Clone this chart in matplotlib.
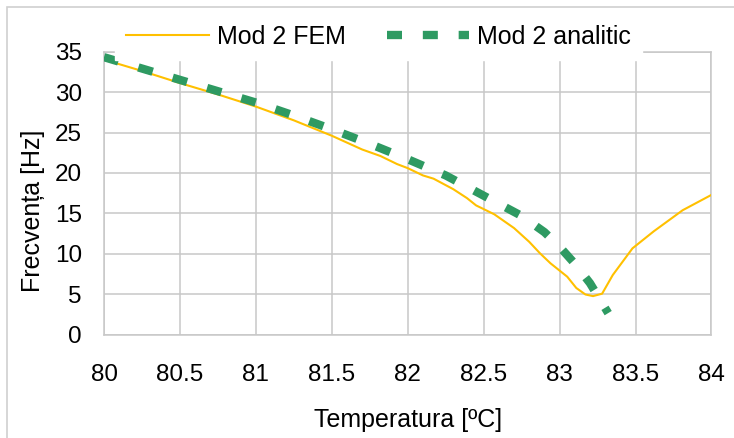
import numpy as np
import matplotlib.pyplot as plt
from matplotlib.patches import Rectangle

plt.rcParams['font.family'] = ['Liberation Sans', 'DejaVu Sans']

# Mod 2 FEM
temp_fem = [80, 80.25, 80.5, 80.75, 81, 81.25, 81.5, 81.7, 81.82, 81.93, 82.0, 82.1,
            82.17, 82.3, 82.39, 82.45, 82.57, 82.7, 82.8, 82.87, 82.94, 83.05, 83.11,
            83.17, 83.22, 83.28, 83.35, 83.48, 83.62, 83.81, 83.9, 84.0]
freq_fem = [34.0, 32.6, 31.1, 29.7, 28.2, 26.5, 24.6, 22.9, 22.1, 21.1, 20.6, 19.7,
            19.3, 18.0, 16.9, 16.0, 14.9, 13.2, 11.5, 10.1, 8.85, 7.2, 5.8,
            5.0, 4.8, 5.1, 7.4, 10.7, 12.8, 15.4, 16.3, 17.3]

# Mod 2 analitic
temp_an = [80, 80.25, 80.5, 80.75, 81, 81.25, 81.5, 81.75, 82, 82.25, 82.5, 82.75,
           82.9, 83.0, 83.1, 83.2, 83.32]
freq_an = [34.3, 32.9, 31.5, 30.1, 28.7, 27.1, 25.4, 23.6, 21.7, 19.7, 17.2, 14.7,
           12.7, 10.9, 8.8, 6.4, 2.7]

xticks = [80, 80.5, 81, 81.5, 82, 82.5, 83, 83.5, 84]
xticklabels = ['80', '80.5', '81', '81.5', '82', '82.5', '83', '83.5', '84']
yticks = [0, 5, 10, 15, 20, 25, 30, 35]

grid_c = '#c8c8c8'

fig = plt.figure(figsize=(7.34, 4.38), dpi=100)
ax = fig.add_axes([0.1417, 0.2352, 0.9693 - 0.1417, 0.8824 - 0.2352])

ax.plot(temp_fem, freq_fem, color='#ffc000', lw=1.5, label='Mod 2 FEM', zorder=3)
ax.plot(temp_an, freq_an, color='#2e9a62', lw=6, linestyle=(0, (1.8, 2.5)),
        solid_capstyle='butt', dash_capstyle='butt', label='Mod 2 analitic', zorder=4)

ax.set_xlim(80, 84)
ax.set_ylim(0, 35)
ax.set_xticks(xticks)
ax.set_xticklabels(xticklabels)
ax.set_yticks(yticks)
ax.grid(True, color=grid_c, lw=1.1)
ax.set_axisbelow(True)
for s in ax.spines.values():
    s.set_color(grid_c)
    s.set_linewidth(1.1)
ax.tick_params(axis='x', length=0, pad=21, labelsize=17.5, colors='black')
ax.tick_params(axis='y', length=0, pad=16, labelsize=17.5, colors='black')
for lab in ax.get_xticklabels() + ax.get_yticklabels():
    lab.set_color('black')

ax.set_xlabel('Temperatura [ºC]', fontsize=18, va='center')
ax.xaxis.set_label_coords(0.5, -0.30)
ax.set_ylabel('Frecvența [Hz]', fontsize=18, va='center')
ax.yaxis.set_label_coords(-0.1177, 0.437)

leg = fig.legend(loc='center', bbox_to_anchor=(0.516, 0.9155), ncol=2,
                 fontsize=18, frameon=True, handlelength=3.3, handletextpad=0.32,
                 columnspacing=1.64, borderpad=0.45, fancybox=False)
leg.get_frame().set_facecolor('white')
leg.get_frame().set_edgecolor('white')
leg.get_frame().set_alpha(1)

fig.patches.append(Rectangle((6.5 / 734, -0.1), 1.2, 1 - 7.3 / 438 + 0.1,
                             transform=fig.transFigure, fill=False,
                             edgecolor='#d0d0d0', lw=1.2))

fig.savefig('out.png', dpi=100)
